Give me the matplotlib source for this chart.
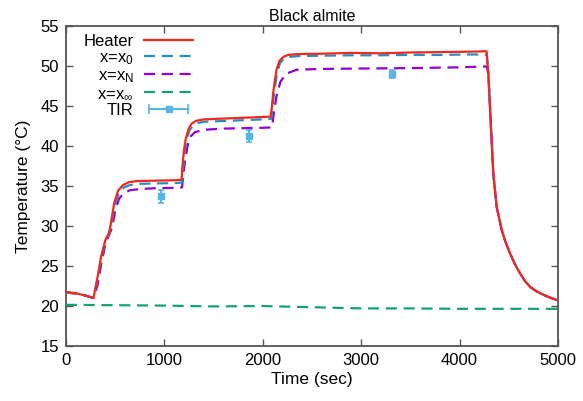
import matplotlib
matplotlib.use("Agg")
import matplotlib.pyplot as plt
from matplotlib.lines import Line2D
from matplotlib.legend_handler import HandlerLine2D, HandlerTuple

plt.rcParams["font.family"] = ["Liberation Sans", "DejaVu Sans"]
plt.rcParams["mathtext.fontset"] = "custom"
plt.rcParams["mathtext.rm"] = "Liberation Sans"
plt.rcParams["mathtext.it"] = "Liberation Sans"

# heater temperature
t_heater = [0, 100, 200, 280, 320, 360, 400, 440, 460, 490, 530, 580, 640, 720, 900,
            1100, 1175, 1185, 1200, 1220, 1250, 1280, 1320, 1400, 1600, 1800, 2000,
            2080, 2090, 2110, 2140, 2170, 2210, 2260, 2350, 2600, 2900, 3200, 3500,
            3800, 4100, 4250, 4275, 4292, 4309, 4326, 4343, 4377, 4428, 4470, 4512,
            4560, 4614, 4660, 4716, 4780, 4852, 4920, 5000]
v_heater = [21.75, 21.6, 21.3, 21.0, 23.5, 26.3, 28.2, 29.2, 30.5, 32.8, 34.4, 35.1,
            35.45, 35.6, 35.65, 35.7, 35.75, 37.5, 39.5, 41.0, 42.2, 42.8, 43.1, 43.3,
            43.4, 43.5, 43.6, 43.65, 44.5, 47.0, 49.5, 50.6, 51.1, 51.35, 51.45, 51.5,
            51.6, 51.55, 51.65, 51.7, 51.75, 51.8, 51.8, 49.1, 44.9, 40.75, 36.6, 32.4,
            29.5, 27.9, 26.6, 25.3, 24.1, 23.2, 22.4, 21.85, 21.4, 21.05, 20.7]

# x = x0
t_x0 = [0, 100, 200, 280, 320, 360, 400, 440, 465, 495, 535, 590, 650, 730, 900,
        1100, 1180, 1190, 1205, 1225, 1255, 1290, 1330, 1400, 1600, 1800, 2000,
        2085, 2095, 2115, 2145, 2175, 2215, 2270, 2360, 2600, 2900, 3200, 3500,
        3800, 4100, 4260, 4278, 4294, 4310, 4326, 4343, 4377, 4428, 4470, 4512,
        4560, 4614, 4660, 4716, 4780, 4852, 4920, 5000]
v_x0 = [21.7, 21.55, 21.3, 21.0, 23.2, 26.0, 28.0, 29.0, 30.3, 32.5, 34.0, 34.8,
        35.1, 35.25, 35.3, 35.35, 35.4, 37.0, 39.0, 40.7, 41.9, 42.5, 42.8, 43.0,
        43.1, 43.2, 43.3, 43.35, 44.2, 46.5, 49.0, 50.3, 50.9, 51.1, 51.2, 51.25,
        51.3, 51.3, 51.35, 51.35, 51.4, 51.4, 51.3, 48.9, 44.8, 40.7, 36.6, 32.4,
        29.5, 27.9, 26.6, 25.3, 24.1, 23.2, 22.4, 21.85, 21.4, 21.05, 20.7]

# x = xN
t_xn = [0, 100, 200, 280, 320, 360, 400, 440, 470, 500, 540, 590, 650, 750, 900,
        1100, 1180, 1195, 1215, 1240, 1270, 1310, 1400, 1600, 1800, 2000, 2095,
        2110, 2140, 2180, 2240, 2345, 2600, 3000, 3500, 4000, 4250, 4278, 4294,
        4310, 4326, 4343, 4377, 4428, 4470, 4512, 4560, 4614, 4660, 4716, 4780,
        4852, 4920, 5000]
v_xn = [21.7, 21.55, 21.3, 21.0, 22.5, 25.3, 27.6, 28.9, 29.8, 31.8, 33.4, 34.1,
        34.45, 34.6, 34.7, 34.75, 34.8, 36.5, 38.5, 40.2, 41.2, 41.7, 42.0, 42.15,
        42.2, 42.25, 42.3, 43.8, 46.2, 48.0, 49.0, 49.5, 49.6, 49.65, 49.7, 49.8,
        49.9, 49.9, 48.8, 44.8, 40.7, 36.6, 32.4, 29.5, 27.9, 26.6, 25.3, 24.1,
        23.2, 22.4, 21.85, 21.4, 21.05, 20.7]

# x = x_inf
t_xinf = [0, 500, 1000, 1500, 2000, 2500, 3000, 3500, 4000, 4500, 5000]
v_xinf = [20.15, 20.1, 20.05, 19.95, 20.0, 19.85, 19.7, 19.7, 19.65, 19.65, 19.65]

# TIR measurements
t_tir = [965, 1860, 3310]
v_tir = [33.7, 41.25, 49.0]
e_tir = [0.8, 0.75, 0.5]

fig = plt.figure(figsize=(5.83, 4.01), dpi=100)
ax = fig.add_axes([0.113, 0.137, 0.844, 0.799])

lw = 1.6
h_heater, = ax.plot(t_heater, v_heater, color="#ee2a1e", lw=lw, zorder=5)
h_x0, = ax.plot(t_x0, v_x0, color="#2b8cc4", lw=lw, dashes=(5, 3), zorder=4)
h_xn, = ax.plot(t_xn, v_xn, color="#9400d3", lw=lw, dashes=(5, 3), zorder=3)
h_xinf, = ax.plot(t_xinf, v_xinf, color="#16a078", lw=lw, dashes=(5, 3), zorder=3)
ax.errorbar(t_tir, v_tir, yerr=e_tir, fmt="s", color="#56b4e9", ms=4, capsize=2,
            elinewidth=1.5, capthick=1.2, zorder=6)

# legend key for TIR drawn gnuplot-style: horizontal bar with end caps and a point
tir_caps = Line2D([], [], color="#56b4e9", lw=1.5, marker="|", ms=7, mew=1.2)
tir_pt = Line2D([], [], color="#56b4e9", lw=0, marker="s", ms=4)

ax.set_xlim(0, 5000)
ax.set_ylim(15, 55)
ax.set_xticks(range(0, 5001, 1000))
ax.set_yticks(range(15, 56, 5))
ax.tick_params(direction="in", length=5, width=1, top=True, right=True,
               labelsize=12, color="#555555", pad=5)
for s in ax.spines.values():
    s.set_color("#555555")
    s.set_linewidth(1.3)

ax.set_xlabel("Time (sec)", fontsize=12.5, labelpad=3)
ax.set_ylabel("Temperature (°C)", fontsize=12.5, labelpad=7)
ax.set_title("Black almite", fontsize=11.5, pad=3)

leg = ax.legend([h_heater, h_x0, h_xn, h_xinf, (tir_caps, tir_pt)],
                ["Heater", "x=x$_0$", "x=x$_\\mathrm{N}$", "x=x$_\\infty$", "TIR"],
                handler_map={tir_caps: HandlerLine2D(numpoints=2),
                             tir_pt: HandlerLine2D(numpoints=1),
                             tuple: HandlerTuple(ndivide=1, pad=0)},
                loc="upper right", bbox_to_anchor=(0.258, 0.975), frameon=False,
                markerfirst=False, fontsize=12, handlelength=2.9,
                handletextpad=0.65, labelspacing=0.08, borderpad=0,
                borderaxespad=0)
for col in leg._legend_handle_box.get_children():
    col.align = "right"

fig.savefig("out.png", dpi=100)
